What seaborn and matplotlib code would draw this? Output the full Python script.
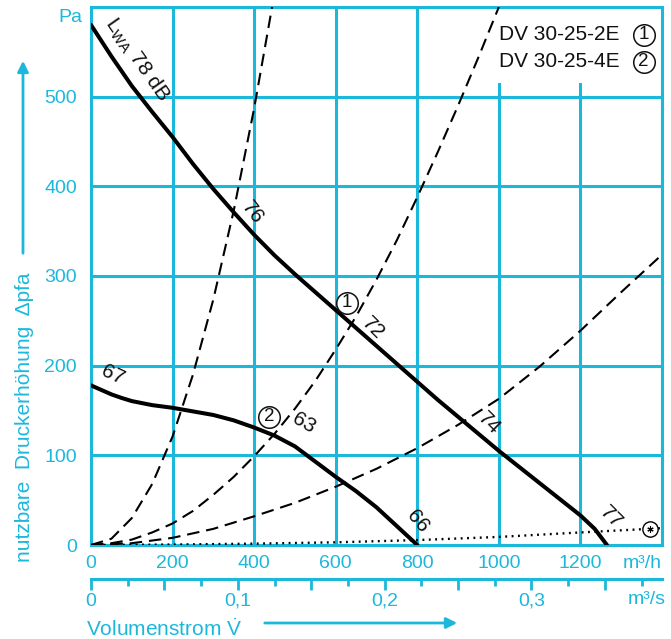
import matplotlib
matplotlib.use('Agg')
import matplotlib.pyplot as plt
import seaborn as sns
from matplotlib.patches import Rectangle
from matplotlib.ticker import MultipleLocator

# Kennlinien DV 30-25
# Volumenstrom in m3/h, Druck in Pa
v_2e = [0, 50, 100, 150, 200, 250, 300, 350, 400, 450, 500, 550, 600, 650, 700,
        750, 800, 850, 900, 950, 1000, 1050, 1100, 1150, 1200, 1235, 1265]
p_2e = [580, 545, 512, 483, 455, 425, 397, 371, 346, 323, 302, 282, 262, 242, 222,
        202, 182, 162, 143, 124, 105, 87, 69, 51, 33, 18, 0]

v_4e = [0, 25, 50, 75, 100, 150, 200, 250, 300, 350, 400, 450, 500, 550, 600, 650, 700, 750, 800]
p_4e = [178, 173, 168, 164, 160.5, 156, 153, 149, 145, 139, 131, 122, 110, 93, 76, 60, 42, 21, 0]

# Anlagenkennlinien (gestrichelt)
v_sys1 = [0, 50, 100, 150, 200, 250, 300, 350, 400, 444]
p_sys1 = [0, 7, 30, 68, 121, 190, 274, 373, 487, 600]
v_sys2 = [0, 50, 100, 150, 200, 250, 300, 350, 400, 450, 500, 550, 600, 650, 700, 750, 800, 850, 900, 950, 1000]
p_sys2 = [0, 2, 6, 14, 24, 38, 56, 76, 99, 124, 152, 183, 218, 255, 296, 340, 388, 438, 490, 544, 600]
v_sys3 = [0, 100, 200, 300, 400, 500, 600, 700, 800, 900, 1000, 1100, 1200, 1300, 1410]
p_sys3 = [0, 2, 8, 18, 32, 47, 65, 85, 108, 134, 163, 199, 239, 282, 328]

# gepunktete Linie mit (*)
v_dot = [0, 200, 400, 600, 800, 1000, 1200, 1410]
p_dot = [0, 0.5, 1.5, 3, 5.5, 9, 14, 19]
star_v = [1370]
star_p = [18]

x_ticks = [0, 200, 400, 600, 800, 1000, 1200, 1400]
x_labels = ['0', '200', '400', '600', '800', '1000', '1200', '']
y_ticks = [0, 100, 200, 300, 400, 500, 600]
y_labels = ['0', '100', '200', '300', '400', '500', '']
q_ticks = [0, 0.05, 0.1, 0.15, 0.2, 0.25, 0.3, 0.35]
q_labels = ['0', '', '0,1', '', '0,2', '', '0,3', '']

# Beschriftungen an den Kurven: (text, V, p, Drehung)
curve_labels = [
    ('L$_{\\mathrm{WA}}$ 78 dB', 113, 541, -55),
    ('76', 396, 370, -52),
    ('72', 691, 242, -45),
    ('74', 976, 136, -45),
    ('77', 1276, 31, -45),
    ('67', 54, 190, -25),
    ('63', 521, 136, -30),
    ('66', 802, 26, -50),
]
# Kreisnummern: (Ziffer, V, p)
circle_labels = [
    ('1', 627, 270),
    ('2', 436, 143),
    ('1', 1355, 569),
    ('2', 1355, 539),
]

cyan = '#1cb8dc'
ink = '#111111'

sns.set_theme(style='white')
plt.rcParams['font.family'] = ['Liberation Sans', 'DejaVu Sans']
plt.rcParams['mathtext.fontset'] = 'custom'
plt.rcParams['mathtext.rm'] = 'Liberation Sans'
plt.rcParams['mathtext.it'] = 'Liberation Sans:italic'

fig = plt.figure(figsize=(6.71, 6.39), dpi=100)
ax = fig.add_axes([91 / 671, 94 / 639, 571 / 671, 538 / 639])
ax.set_axisbelow(True)

sns.lineplot(x=v_2e, y=p_2e, ax=ax, color='black', lw=2.9, zorder=4)
sns.lineplot(x=v_4e, y=p_4e, ax=ax, color='black', lw=2.9, zorder=4)
for vs, ps in [(v_sys1, p_sys1), (v_sys2, p_sys2), (v_sys3, p_sys3)]:
    sns.lineplot(x=vs, y=ps, ax=ax, color='black', lw=1.5, linestyle=(0, (6, 3.3)), zorder=3)
sns.lineplot(x=v_dot, y=p_dot, ax=ax, color='black', lw=1.7, linestyle=(0, (0.8, 1.9)), zorder=3)
ax.plot(star_v, star_p, marker='o', ms=11, mfc='white', mec='black', mew=1.0, ls='none', zorder=5)
ax.plot(star_v, star_p, marker=(6, 2, 0), ms=4.5, mec='black', mew=0.8, ls='none', zorder=6)

ax.set_xlim(0, 1400)
ax.set_ylim(0, 600)
ax.set_xticks(x_ticks)
ax.set_xticklabels(x_labels)
ax.set_yticks(y_ticks)
ax.set_yticklabels(y_labels)
ax.grid(True, color=cyan, lw=2.2)
for s in ax.spines.values():
    s.set_color(cyan)
    s.set_linewidth(2.2)
ax.tick_params(axis='x', colors=cyan, labelsize=14, length=5, width=2.2, pad=2)
ax.tick_params(axis='y', colors=cyan, labelsize=14, length=8, width=2.2, pad=2)
ax.set_xlabel('')
ax.set_ylabel('')

# Kasten für Typenbezeichnung
ax.add_patch(Rectangle((985, 515), 415, 85, facecolor='white', edgecolor='none', zorder=1))
ax.text(1001, 569, 'DV 30-25-2E', fontsize=15, va='center', ha='left', color=ink, zorder=6)
ax.text(1001, 539, 'DV 30-25-4E', fontsize=15, va='center', ha='left', color=ink, zorder=6)

for txt, xv, yv, rot in curve_labels:
    ax.text(xv, yv, txt, fontsize=15, rotation=rot, rotation_mode='anchor',
            ha='center', va='center', color=ink, zorder=6)
for txt, xv, yv in circle_labels:
    ax.plot([xv], [yv], marker='o', ms=15.5, mfc='white', mec=ink, mew=1.1, ls='none', zorder=6)
    ax.text(xv, yv, txt, fontsize=13.5, ha='center', va='center', color=ink, zorder=7)

ax.text(-20, 588, 'Pa', fontsize=14, ha='right', va='center', color=cyan, clip_on=False)
ax.text(1352, -21, 'm³/h', fontsize=14, ha='center', va='center', color=cyan, clip_on=False)
ax.text(1362, -61, 'm³/s', fontsize=14, ha='center', va='center', color=cyan, clip_on=False)

# zweite Achse in m3/s
sec = ax.secondary_xaxis(-34 / 538, functions=(lambda v: v / 3600, lambda q: q * 3600))
sec.set_xticks(q_ticks)
sec.set_xticklabels(q_labels)
sec.xaxis.set_minor_locator(MultipleLocator(0.025))
sec.spines['bottom'].set_color(cyan)
sec.spines['bottom'].set_linewidth(2.2)
sec.tick_params(which='major', colors=cyan, labelsize=14, length=8, width=2, pad=2)
sec.tick_params(which='minor', colors=cyan, length=5, width=2)

# Achsentitel mit Pfeilen
fig.text(25 / 671, 1 - 417 / 639, 'nutzbare  Druckerhöhung  Δpfa', rotation=90,
         ha='center', va='center', color=cyan, fontsize=15)
ax.annotate('', xy=(23 / 671, 1 - 58 / 639), xytext=(23 / 671, 1 - 256 / 639),
            xycoords='figure fraction', textcoords='figure fraction', annotation_clip=False,
            arrowprops=dict(arrowstyle='-|>', color=cyan, lw=2, mutation_scale=16))
fig.text(86 / 671, 1 - 629 / 639, 'Volumenstrom $\\dot{\\mathrm{V}}$', ha='left', va='center',
         color=cyan, fontsize=15)
ax.annotate('', xy=(460 / 671, 1 - 623 / 639), xytext=(262 / 671, 1 - 623 / 639),
            xycoords='figure fraction', textcoords='figure fraction', annotation_clip=False,
            arrowprops=dict(arrowstyle='-|>', color=cyan, lw=2, mutation_scale=16))

fig.savefig('out.png', dpi=100, facecolor='white')
